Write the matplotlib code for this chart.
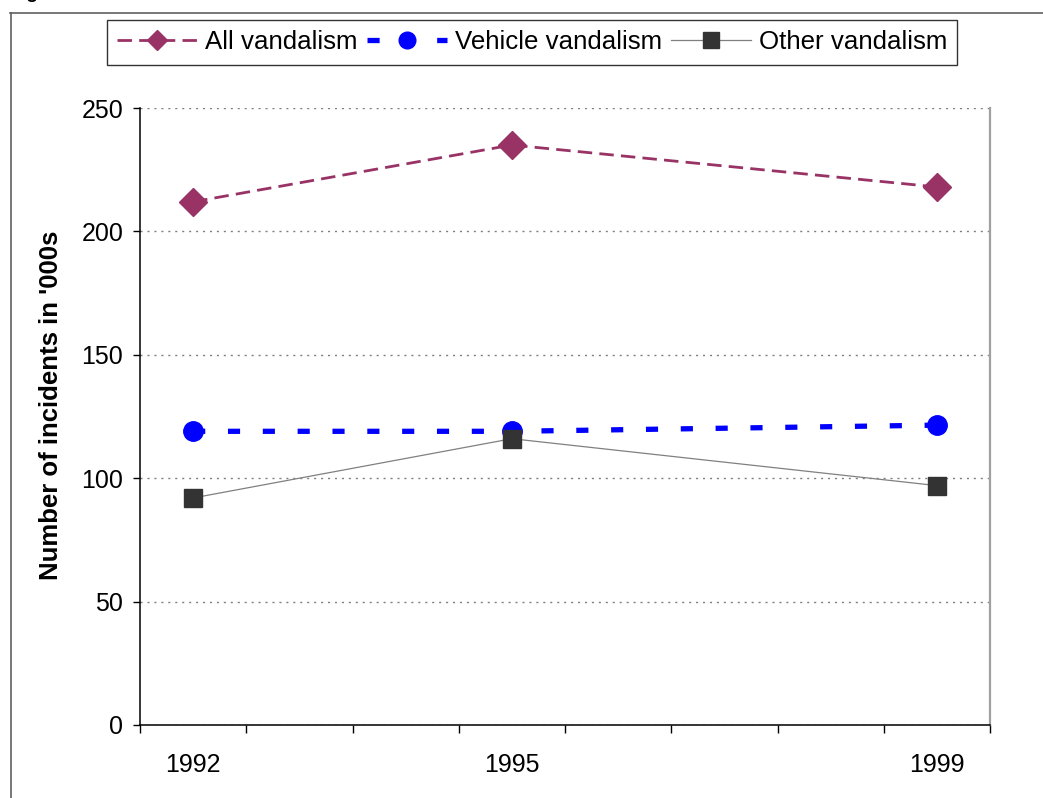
import matplotlib
matplotlib.use("Agg")
import matplotlib.pyplot as plt
from matplotlib.lines import Line2D

plt.rcParams['font.family'] = ['Liberation Sans', 'DejaVu Sans']

# category axis: one slot per year, only some years carry data / labels
years = ['1992', '1993', '1994', '1995', '1996', '1997', '1998', '1999']
data_years = ['1992', '1995', '1999']
shown_labels = ['1992', '1995', '1999']

all_vandalism = [212, 235, 218]
vehicle_vandalism = [119, 119, 121.5]
other_vandalism = [92, 116, 97]

PLUM = '#993366'
BLUE = '#0000ff'
DARK = '#333333'
GREY = '#808080'

W, H = 1043, 798
fig = plt.figure(figsize=(W / 100, H / 100), dpi=100)
ax = fig.add_axes([140 / W, 1 - 725 / H, 850 / W, 617 / H])

x = [years.index(y) for y in data_years]

all_style = dict(color=PLUM, lw=2.0, linestyle=(0, (5.2, 2.6)),
                 marker='D', mfc=PLUM, mec=PLUM, ms=14)
veh_style = dict(color=BLUE, lw=3.8, linestyle=(0, (2.3, 4.3)),
                 dash_capstyle='butt', marker='o', mfc=BLUE, mec=BLUE, ms=14)
oth_style = dict(color=GREY, lw=0.9, linestyle='-',
                 marker='s', mfc=DARK, mec=DARK, ms=13)

ax.plot(x, all_vandalism, zorder=3, **all_style)
ax.plot(x, vehicle_vandalism, zorder=3, **veh_style)
ax.plot(x, other_vandalism, zorder=4, **oth_style)

ax.set_ylim(0, 250)
ax.set_xlim(-0.5, len(years) - 0.5)
ax.set_yticks(range(0, 251, 50))
ax.yaxis.grid(True, color=GREY, lw=1.0, linestyle=(0, (1.5, 3.5)))
ax.set_axisbelow(True)

# tick marks between categories, labels centred on chosen years
ax.set_xticks([i - 0.5 for i in range(len(years) + 1)])
ax.set_xticklabels([])
ax.set_xticks([years.index(y) for y in shown_labels], minor=True)
ax.set_xticklabels(shown_labels, minor=True)
ax.tick_params(axis='x', which='major', direction='out', length=6, width=1, color='black')
ax.tick_params(axis='x', which='minor', length=0, pad=20, labelsize=18)
ax.tick_params(axis='y', direction='out', length=5, width=1, pad=7, labelsize=18)

for side in ('left', 'bottom'):
    ax.spines[side].set_color('black')
    ax.spines[side].set_linewidth(1.1)
ax.spines['top'].set_visible(False)
ax.spines['right'].set_color('#a0a0a0')
ax.spines['right'].set_linewidth(1.6)

fig.text(51 / W, 1 - 405 / H, "Number of incidents in '000s", rotation=90,
         ha='center', va='center', fontsize=18.5, fontweight='bold')

handles = [
    Line2D([], [], **{**all_style, 'ms': 10.5}),
    Line2D([], [], **{**veh_style, 'ms': 12}),
    Line2D([], [], **{**oth_style, 'ms': 12}),
]
leg = fig.legend(handles, ['All vandalism', 'Vehicle vandalism', 'Other vandalism'],
                 loc='upper left', bbox_to_anchor=(107 / W, 1 - 20 / H),
                 bbox_transform=fig.transFigure, ncol=3, fontsize=18.6,
                 frameon=True, fancybox=False, borderaxespad=0,
                 borderpad=0.4, handlelength=3.1, handletextpad=0.3,
                 columnspacing=0.35, numpoints=1)
leg.get_frame().set_edgecolor('black')
leg.get_frame().set_linewidth(1.0)

# outer chart frame (cut off at right / bottom) and clipped caption above it
fig.add_artist(Line2D([10 / W, 1.0], [1 - 13 / H, 1 - 13 / H],
                      transform=fig.transFigure, color='#606060', lw=1.2))
fig.add_artist(Line2D([10.5 / W, 10.5 / W], [0.0, 1 - 13 / H],
                      transform=fig.transFigure, color='#606060', lw=1.2))
fig.text(10 / W, 1 + 1.5 / H, 'Figure', fontsize=14, fontweight='bold', va='baseline')

fig.savefig('out.png', dpi=100)
